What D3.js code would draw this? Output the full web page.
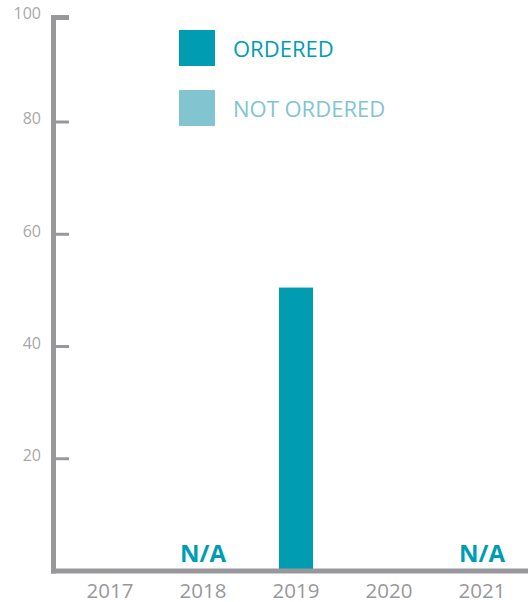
<!DOCTYPE html>
<html>
<head>
<meta charset="utf-8">
<script src="https://cdn.jsdelivr.net/npm/d3@7"></script>
<style>
  html, body { margin: 0; padding: 0; background: #fff; overflow: hidden; }
  svg { display: block; font-family: "Open Sans", sans-serif; }
</style>
</head>
<body>
<svg width="528" height="602"></svg>
<script>
// data
var years = ["2017", "2018", "2019", "2020", "2021"]
var ordered = [null, null, 50.5, null, null]
var naYears = ["2018", "2021"]
var yTicks = [20, 40, 60, 80, 100]
var legendLabels = ["ORDERED", "NOT ORDERED"]
var colors = ["#009db2", "#82c5d1"]

var svg = d3.select("svg")
var axisColor = "#98989b"

// y is compressed above 80 so the top tick sits at the end of the axis line
var y = d3.scaleLinear().domain([0, 80, 100]).range([571, 122, 17])
var x = d3.scaleBand().domain(years).range([63.5, 528.5])
    .paddingInner(0.634).paddingOuter(0.317)

//Bars
svg.selectAll("rect.bar")
    .data(years.map(function (d, i) { return {year: d, v: ordered[i]} }).filter(function (d) { return d.v != null }))
  .enter().append("rect")
    .attr("class", "bar")
    .attr("x", function (d) { return x(d.year) })
    .attr("width", x.bandwidth())
    .attr("y", function (d) { return y(d.v) })
    .attr("height", function (d) { return y(0) - y(d.v) })
    .attr("fill", colors[0])

//N/A labels
svg.selectAll("text.na")
    .data(naYears)
  .enter().append("text")
    .attr("class", "na")
    .attr("x", function (d) { return x(d) + x.bandwidth() / 2 })
    .attr("y", 561.5)
    .attr("text-anchor", "middle")
    .attr("fill", colors[0])
    .style("font-weight", "bold").style("font-size", "24px")
    .text("N/A")

//Axis lines
svg.append("line")
    .attr("x1", 53.5).attr("x2", 53.5)
    .attr("y1", y(100)).attr("y2", y(0) + 2.5)
    .attr("stroke", axisColor).attr("stroke-width", 5)
svg.append("line")
    .attr("x1", 51).attr("x2", 528)
    .attr("y1", y(0)).attr("y2", y(0))
    .attr("stroke", axisColor).attr("stroke-width", 5)

//Y ticks + labels
var tick = svg.selectAll("g.ytick").data(yTicks).enter().append("g")
    .attr("class", "ytick")
    .attr("transform", function (d) { return "translate(0," + y(d) + ")" })
tick.append("line")
    .attr("x1", function (d) { return d == 100 ? 51 : 56 }).attr("x2", 69)
    .attr("y1", function (d) { return d == 100 ? 0.5 : 0 })
    .attr("y2", function (d) { return d == 100 ? 0.5 : 0 })
    .attr("stroke", axisColor)
    .attr("stroke-width", function (d) { return d == 100 ? 5 : 3 })
tick.append("text")
    .attr("x", 41).attr("dy", "0.15em")
    .attr("text-anchor", "end")
    .attr("fill", "#a8a8aa")
    .style("font-size", "16px")
    .text(function (d) { return d })

//X labels
svg.selectAll("text.xlab").data(years).enter().append("text")
    .attr("class", "xlab")
    .attr("x", function (d) { return x(d) + x.bandwidth() / 2 })
    .attr("y", 598)
    .attr("text-anchor", "middle")
    .attr("fill", "#98989b")
    .style("font-size", "20.5px")
    .text(function (d) { return d })

//Legend
var legend = svg.selectAll("g.legend").data(legendLabels).enter().append("g")
    .attr("class", "legend")
    .attr("transform", function (d, i) { return "translate(179," + (30 + i * 60) + ")" })
legend.append("rect")
    .attr("width", 36).attr("height", 36)
    .attr("fill", function (d, i) { return colors[i] })
legend.append("text")
    .attr("x", 54).attr("y", 27)
    .attr("fill", function (d, i) { return colors[i] })
    .style("font-size", "22px")
    .text(function (d) { return d })
</script>
</body>
</html>
